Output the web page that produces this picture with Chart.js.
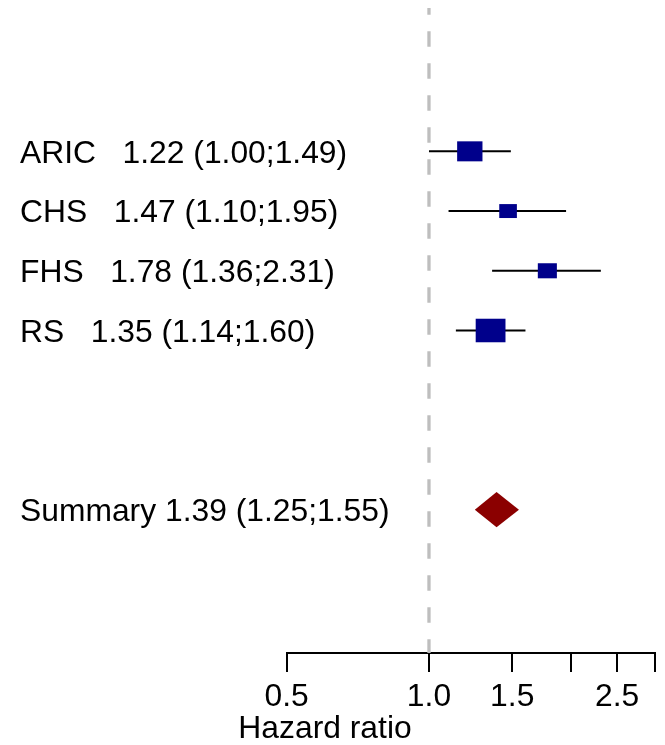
<!DOCTYPE html>
<html>
<head>
<meta charset="utf-8">
<script src="https://cdn.jsdelivr.net/npm/chart.js@4.4.1/dist/chart.umd.min.js"></script>
<style>
  html, body { margin: 0; padding: 0; background: #ffffff; }
  #wrap { width: 665px; height: 745px; }
</style>
</head>
<body>
<div id="wrap"><canvas id="forest" width="665" height="745"></canvas></div>
<script>
// Study-level hazard ratios with 95% confidence intervals
const studies   = ['ARIC', 'CHS', 'FHS', 'RS'];
const estimates = [1.22, 1.47, 1.78, 1.35];
const lowerCI   = [1.00, 1.10, 1.36, 1.14];
const upperCI   = [1.49, 1.95, 2.31, 1.60];

// Pooled estimate
const summaryName  = 'Summary';
const summaryEst   = 1.39;
const summaryLower = 1.25;
const summaryUpper = 1.55;

// Axis
const tickValues = [0.5, 1.0, 1.5, 2.0, 2.5, 3.0];
const tickLabels = ['0.5', '1.0', '1.5', '', '2.5', ''];
const axisTitle  = 'Hazard ratio';

const summaryRow = studies.length + 2;
const fmt = v => v.toFixed(2);
const ciText = (e, l, u) => fmt(e) + ' (' + fmt(l) + ';' + fmt(u) + ')';

const FONT = '"Liberation Sans", Arial, Helvetica, sans-serif';
const FONT_PX = 31.5;
const STRETCH = 1.01;

function drawText(ctx, text, x, y, align) {
  ctx.save();
  ctx.font = FONT_PX + 'px ' + FONT;
  ctx.fillStyle = '#000000';
  ctx.textBaseline = 'alphabetic';
  ctx.textAlign = align;
  ctx.translate(x, y);
  ctx.scale(STRETCH, 1);
  ctx.fillText(text, 0, 0);
  ctx.restore();
}

const forestMarks = {
  id: 'forestMarks',
  afterDatasetsDraw(chart) {
    const ctx = chart.ctx;
    const xs = chart.scales.x, ys = chart.scales.y;
    ctx.save();
    // confidence interval whiskers
    ctx.strokeStyle = '#000000';
    ctx.lineWidth = 2;
    studies.forEach((s, i) => {
      const y = ys.getPixelForValue(i);
      ctx.beginPath();
      ctx.moveTo(xs.getPixelForValue(lowerCI[i]), y);
      ctx.lineTo(xs.getPixelForValue(upperCI[i]), y);
      ctx.stroke();
    });
    // boxes sized by precision (inverse of CI width on the log scale)
    ctx.fillStyle = '#00008B';
    studies.forEach((s, i) => {
      const y = ys.getPixelForValue(i);
      const x = xs.getPixelForValue(estimates[i]);
      const w = 10.1 / Math.log(upperCI[i] / lowerCI[i]);
      const h = w * 0.79;
      ctx.fillRect(x - w / 2, y - h / 2, w, h);
    });
    // summary diamond
    const yc = ys.getPixelForValue(summaryRow);
    ctx.fillStyle = '#8B0000';
    ctx.beginPath();
    ctx.moveTo(xs.getPixelForValue(summaryLower), yc);
    ctx.lineTo(xs.getPixelForValue(summaryEst), yc - 17.6);
    ctx.lineTo(xs.getPixelForValue(summaryUpper), yc);
    ctx.lineTo(xs.getPixelForValue(summaryEst), yc + 17.6);
    ctx.closePath();
    ctx.fill();
    ctx.restore();
  },
  afterDraw(chart) {
    const xs = chart.scales.x, ys = chart.scales.y;
    const ctx = chart.ctx;
    // row labels
    studies.forEach((s, i) => {
      drawText(ctx, s + '   ' + ciText(estimates[i], lowerCI[i], upperCI[i]),
        20, ys.getPixelForValue(i) + 11.2, 'left');
    });
    drawText(ctx, summaryName + ' ' + ciText(summaryEst, summaryLower, summaryUpper),
      20, ys.getPixelForValue(summaryRow) + 11.2, 'left');
    // tick labels
    const base = chart.chartArea.bottom;
    tickValues.forEach((v, i) => {
      if (tickLabels[i]) drawText(ctx, tickLabels[i], xs.getPixelForValue(v), base + 53, 'center');
    });
    // axis title
    drawText(ctx, axisTitle, 325, base + 85, 'center');
  }
};

new Chart(document.getElementById('forest'), {
  type: 'line',
  data: {
    datasets: [{
      label: 'No effect',
      data: [{ x: 1, y: -2.4 }, { x: 1, y: 8.4 }],
      borderColor: '#bebebe',
      borderWidth: 3.3,
      borderDash: [15.5, 16.5],
      borderDashOffset: 8.8,
      pointRadius: 0,
      fill: false
    }]
  },
  options: {
    responsive: false,
    animation: false,
    events: [],
    layout: { padding: { left: 286.7, right: 10.5, top: 0, bottom: 0 } },
    plugins: { legend: { display: false }, tooltip: { enabled: false } },
    scales: {
      x: {
        type: 'logarithmic',
        position: 'bottom',
        min: 0.5,
        max: 3.0,
        afterBuildTicks(scale) { scale.ticks = tickValues.map(v => ({ value: v })); },
        afterFit(scale) { scale.height = 92; },
        ticks: { display: false },
        grid: { drawOnChartArea: false, drawTicks: true, tickLength: 19, color: '#000000', lineWidth: 2 },
        border: { display: true, color: '#000000', width: 2 }
      },
      y: {
        type: 'linear',
        display: false,
        reverse: true,
        min: -2.534,
        max: 8.40
      }
    }
  },
  plugins: [forestMarks]
});
</script>
</body>
</html>
